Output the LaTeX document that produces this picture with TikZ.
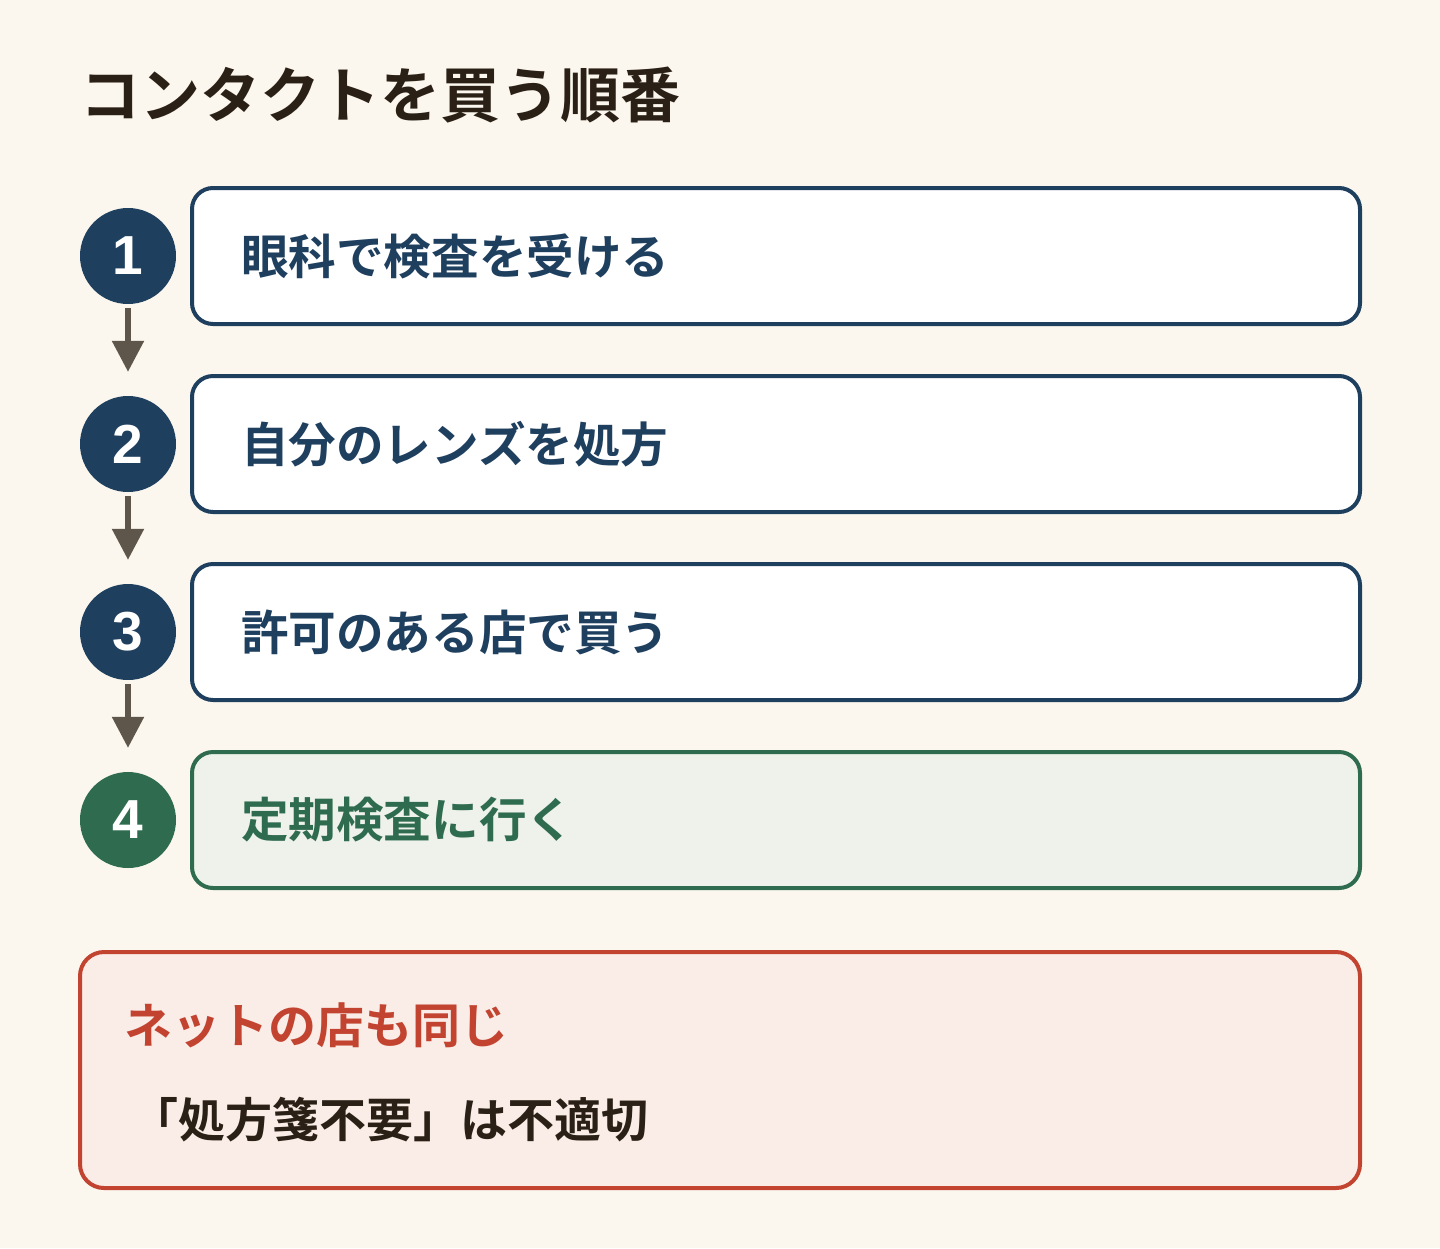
\documentclass[tikz,border=0pt]{standalone}
\usepackage{fontspec}
\setmainfont{Noto Sans CJK JP}[BoldFont={* Bold}]
\newfontfamily\digitfont{Liberation Sans}
\usepackage{tikz}
\usetikzlibrary{arrows.meta,positioning}
\definecolor{bgcream}{HTML}{FBF7EE}
\definecolor{navy}{HTML}{1F3F5F}
\definecolor{leaf}{HTML}{2F6B4F}
\definecolor{leafbg}{HTML}{EEF2EA}
\definecolor{brick}{HTML}{C2432F}
\definecolor{brickbg}{HTML}{FAEDE8}
\definecolor{inkdark}{HTML}{2A2016}
\definecolor{arrowgray}{HTML}{5E564A}
\tikzset{
  stepbox/.style={rectangle,draw=#1,line width=4pt,rounded corners=21pt,
    minimum width=1168pt,minimum height=136pt,text width=1070pt,
    inner xsep=49pt,align=left,text=#1,
    font=\fontsize{47.6}{56}\selectfont\bfseries},
  stepbox/.default=navy,
  numdot/.style={circle,fill=#1,minimum size=96pt,inner sep=0pt,text=white,
    font=\digitfont\fontsize{55}{60}\selectfont\bfseries},
  numdot/.default=navy,
}

\begin{document}
\begin{tikzpicture}[x=1pt,y=-1pt,
flow/.style={draw=arrowgray,line width=5.5pt,
  -{Triangle[width=31pt,length=31pt]},shorten <=4pt,shorten >=24pt},
]
\fill[bgcream] (0,0) rectangle (1440,1248);
\useasboundingbox (0,0) rectangle (1440,1248);
\node (title) [anchor=west,inner sep=0pt,text=inkdark,
  font=\fontsize{60}{70}\selectfont\bfseries] at (80,95) {コンタクトを買う順番};
% steps
\node (n1) [numdot] at (128,256) {1};
\node (b1) [stepbox,fill=white] at (776,256) {眼科で検査を受ける};
\node (n2) [numdot] at (128,444) {2};
\node (b2) [stepbox,fill=white] at (776,444) {自分のレンズを処方};
\node (n3) [numdot] at (128,632) {3};
\node (b3) [stepbox,fill=white] at (776,632) {許可のある店で買う};
\node (n4) [numdot=leaf] at (128,820) {4};
\node (b4) [stepbox=leaf,fill=leafbg] at (776,820) {定期検査に行く};
\draw[flow] (n1) -- (n2);
\draw[flow] (n2) -- (n3);
\draw[flow] (n3) -- (n4);
% note
\node (note) [rectangle,draw=brick,fill=brickbg,line width=4pt,
  rounded corners=24pt,minimum width=1280pt,minimum height=236pt] at (720,1070) {};
\node (nhead) [anchor=west,inner sep=0pt,text=brick,
  font=\fontsize{48}{56}\selectfont\bfseries] at (124,1025) {ネットの店も同じ};
\node (nbody) [anchor=west,inner sep=0pt,text=inkdark,
  font=\fontsize{47}{56}\selectfont\bfseries] at (131,1120) {「処方箋不要」は不適切};
\end{tikzpicture}
\end{document}
